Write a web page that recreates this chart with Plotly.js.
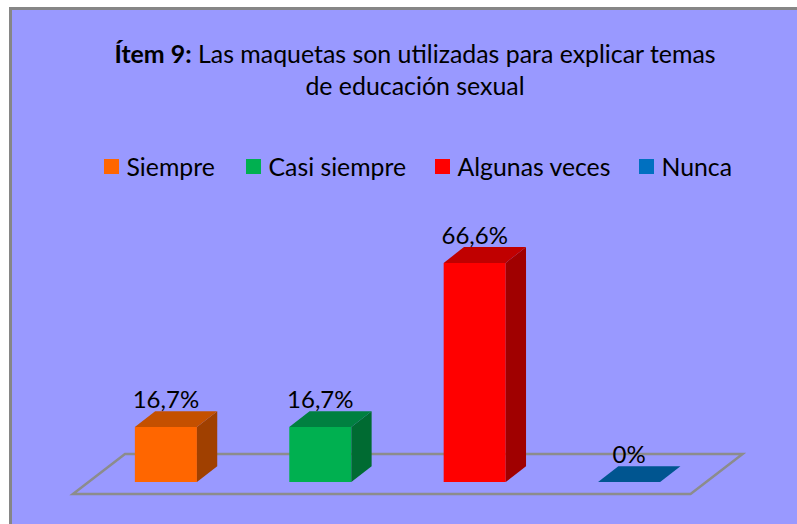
<!DOCTYPE html>
<html><head><meta charset="utf-8">
<script src="https://cdn.plot.ly/plotly-3.0.1.min.js"></script>
<style>html,body{margin:0;padding:0;background:#fff}
.legendtext,.legend2text,.legend3text,.legend4text{transform:translateX(-5px)}</style></head>
<body><div id="chart" style="width:797px;height:524px"></div>
<script>
const categories = ['Siempre','Casi siempre','Algunas veces','Nunca'];
const values = [16.7,16.7,66.6,0];
const labels = ['16,7%','16,7%','66,6%','0%'];
const frontColors = ['#FF6600','#00B050','#FF0000','#0070C0'];
const topColors = ['#C45000','#008040','#C00000','#005590'];
const sideColors = ['#A04000','#006B32','#A00000','#004A80'];
const positions = [0,1,2,3];
const legendSwatchCentres = [111.5,253.5,442.5,646.5];

const W=797,H=524;
const L=12,R=0,T=10,B=0;
const pxX=154.4, pxY=3.29;
const x0px=165.9-L, y0px=482-T;
const xRange=[-x0px/pxX,(W-L-R-x0px)/pxX];
const yRange=[-(H-T-B-y0px)/pxY,y0px/pxY];
const barW=0.402, dx=20.3/pxX, dy=15.8/pxY, labelDrop=3.2/pxY;
const fl={xf0:-0.602,xf1:3.398,yf:-3.65,xb0:-0.265,xb1:3.735,yb:8.51};
const font='Lato, Carlito, sans-serif';

const traces=[];
const legendNames=['legend','legend2','legend3','legend4'];
positions.forEach((p,i)=>{
  const v=values[i],a=p-barW/2,b=p+barW/2;
  if(v>0){
    traces.push({type:'scatter',mode:'lines',fill:'toself',fillcolor:sideColors[i],line:{width:0},
      x:[b,b+dx,b+dx,b,b],y:[0,dy,v+dy,v,0],showlegend:false,hoverinfo:'skip'});
  }
  traces.push({type:'scatter',mode:'lines',fill:'toself',fillcolor:topColors[i],line:{width:0},
    x:[a,b,b+dx,a+dx,a],y:[v,v,v+dy,v+dy,v],showlegend:false,hoverinfo:'skip'});
  if(v>0){
    traces.push({type:'bar',x:[p],y:[v],width:barW,marker:{color:frontColors[i]},showlegend:false,hoverinfo:'x+y'});
  }
  traces.push({type:'scatter',mode:'text',x:[p],y:[v+dy-labelDrop],text:[labels[i]],textposition:'top center',
    textfont:{family:font,size:24,color:'#000'},showlegend:false,cliponaxis:false,hoverinfo:'skip'});
  traces.push({type:'scatter',mode:'markers',x:[null],y:[null],name:categories[i],legend:legendNames[i],
    marker:{symbol:'square',size:15,color:frontColors[i]}});
});

const legendBase=(cx)=>({orientation:'h',x:(cx-20-L)/(W-L-R),xanchor:'left',
  y:1-(167-T)/(H-T-B),yanchor:'middle',bgcolor:'rgba(0,0,0,0)',borderwidth:0,
  font:{family:font,size:24.8,color:'#000'}});

const layout={
  width:W,height:H,margin:{l:L,r:R,t:T,b:B,pad:0},
  paper_bgcolor:'#fff',plot_bgcolor:'#9999FF',
  showlegend:true,barmode:'overlay',
  font:{family:font,color:'#000'},
  title:{text:'<b>Ítem 9:</b> Las maquetas son utilizadas para explicar temas<br>de educación sexual',
    font:{family:font,size:24.9,color:'#000'},x:415/W,xanchor:'center',y:1-62.5/H,yanchor:'top'},
  legend:legendBase(legendSwatchCentres[0]),
  legend2:legendBase(legendSwatchCentres[1]),
  legend3:legendBase(legendSwatchCentres[2]),
  legend4:legendBase(legendSwatchCentres[3]),
  shapes:[{type:'path',layer:'below',xref:'x',yref:'y',
    path:`M${fl.xf0},${fl.yf}L${fl.xf1},${fl.yf}L${fl.xb1},${fl.yb}L${fl.xb0},${fl.yb}Z`,
    line:{color:'#8C8C8C',width:2.5}}],
  xaxis:{range:xRange,side:'top',showgrid:false,zeroline:false,showticklabels:false,ticks:'',showline:true,linecolor:'#868686',linewidth:3,fixedrange:true},
  yaxis:{range:yRange,side:'left',showgrid:false,zeroline:false,showticklabels:false,ticks:'',showline:true,linecolor:'#868686',linewidth:3,fixedrange:true}
};
Plotly.newPlot('chart',traces,layout,{displayModeBar:false,responsive:false});
</script></body></html>
